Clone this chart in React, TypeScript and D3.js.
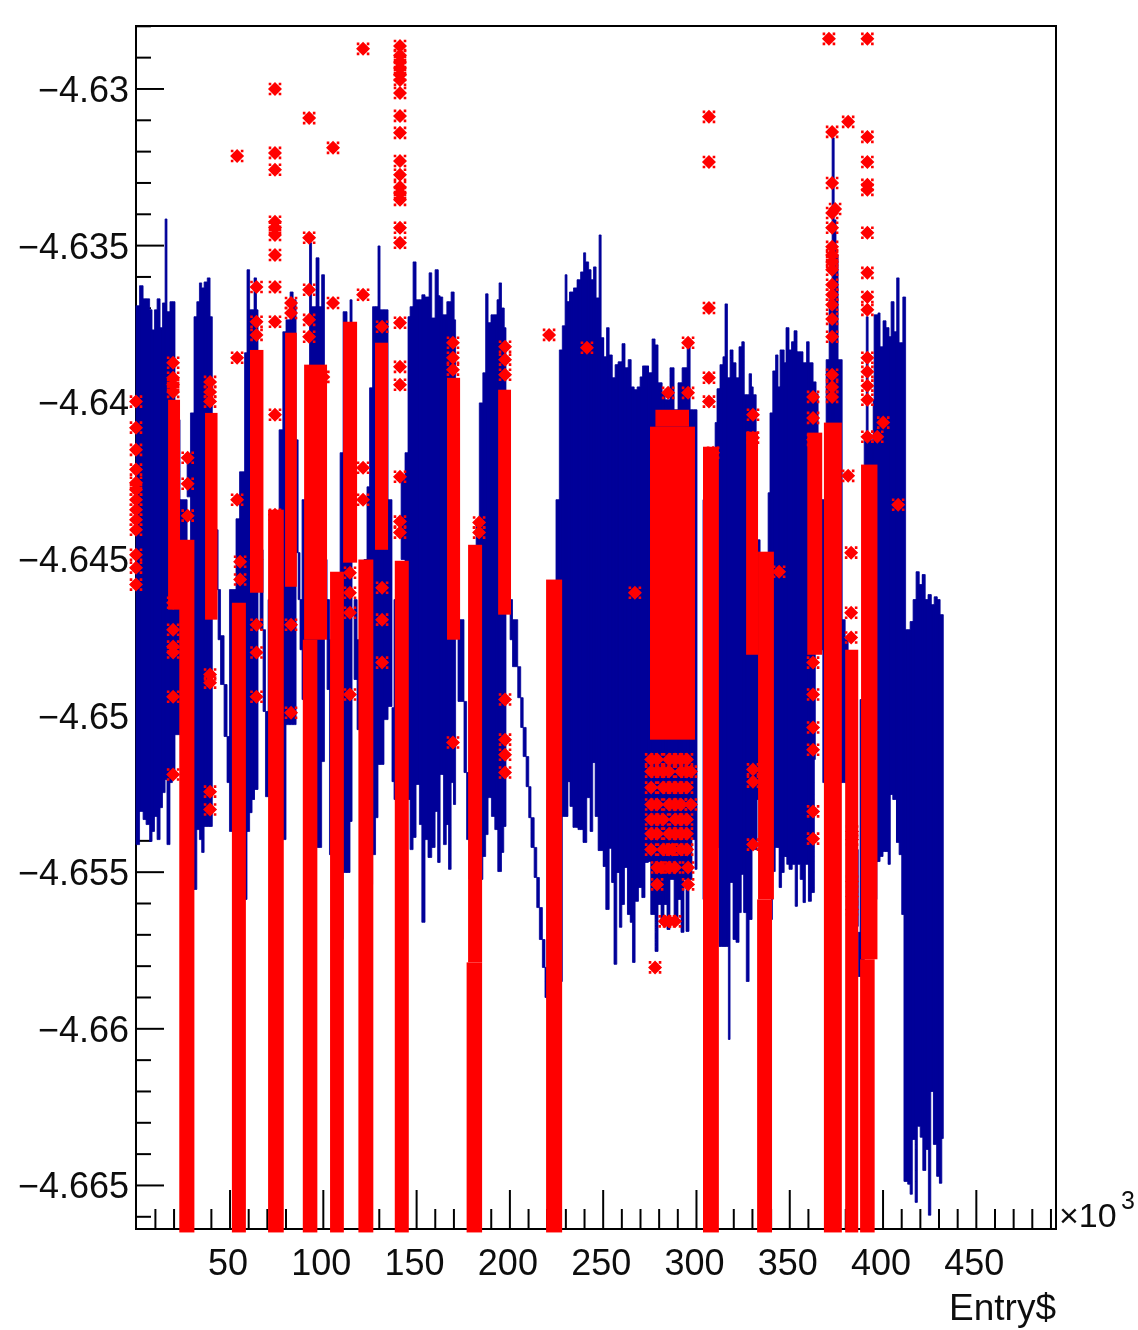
import React from "react";
import * as d3 from "d3";

const WIDTH = 1138;
const HEIGHT = 1330;

const blueTopEntry = [-0.4,1.5,3.4,5.0,6.9,8.2,9.5,10.9,12.5,13.8,15.2,16.2,17.8,20.5,23.2,27.0,28.8,30.7,32.2,33.6,34.8,36.1,37.8,39.3,40.5,43.6,44.9,46.8,48.4,49.7,53.2,55.1,57.8,59.1,60.5,62.9,64.2,65.0,66.1,67.7,69.0,70.4,73.6,76.3,78.3,80.0,82.2,83.8,85.4,86.5,87.5,88.6,91.3,92.6,93.7,96.1,97.7,99.1,100.6,102.0,103.3,106.3,109.0,110.6,112.7,114.3,115.4,116.5,118.1,121.8,123.4,124.8,126.4,129.3,130.4,134.7,136.8,137.9,141.7,143.8,145.4,146.5,148.1,149.7,152.8,154.5,156.7,158.1,159.9,161.5,162.6,164.0,166.2,168.5,170.1,170.9,172.2,175.4,176.8,178.1,181.9,183.6,185.5,187.0,188.3,189.9,193.1,194.2,195.5,196.9,197.9,200.1,201.4,204.2,205.8,207.1,208.7,210.1,211.3,213.0,214.4,215.8,217.4,218.8,219.9,224.7,226.5,228.1,229.6,230.6,232.0,234.1,236.0,237.9,239.5,240.6,242.2,243.5,244.8,246.2,247.8,248.9,250.3,251.8,253.2,254.8,256.4,258.0,260.1,261.7,263.4,265.0,266.6,268.2,269.8,271.1,274.3,276.2,277.8,279.4,281.6,283.2,285.8,288.0,290.1,292.3,295.0,296.6,300.3,303.5,310.0,311.0,312.6,314.2,315.3,316.6,318.0,319.6,321.2,322.8,324.3,325.5,328.2,329.5,330.4,332.0,334.1,338.4,339.4,340.9,342.4,343.7,344.8,347.0,348.0,349.6,351.0,352.3,353.9,357.1,359.0,360.4,362.5,364.1,365.2,367.3,369.5,371.1,372.7,373.8,374.8,375.9,378.1,379.7,381.3,383.4,385.0,386.7,387.7,389.9,391.0,392.0,394.7,395.2,397.3,398.4,400.0,401.6,403.2,404.3,405.9,407.3,408.6,410.6,412.1,414.5,416.1,417.7,419.4,421.0,422.6,424.2,425.8,427.4,429.0,430.6,432.3];
const blueTopValue = [-4.63692,-4.63628,-4.6367,-4.6367,-4.63705,-4.63769,-4.63705,-4.6367,-4.63762,-4.63683,-4.63415,-4.63711,-4.63679,-4.64056,-4.64311,-4.64193,-4.64034,-4.63727,-4.63679,-4.63619,-4.63635,-4.63616,-4.63603,-4.63727,-4.64407,-4.64598,-4.64745,-4.64901,-4.65067,-4.64598,-4.64372,-4.64222,-4.63842,-4.63577,-4.63705,-4.63603,-4.63705,-4.64311,-4.64471,-4.64726,-4.64987,-4.6463,-4.64375,-4.64088,-4.63775,-4.63737,-4.63648,-4.63673,-4.6412,-4.6448,-4.6463,-4.64311,-4.63992,-4.63491,-4.63695,-4.63539,-4.63695,-4.63593,-4.64502,-4.6463,-4.64758,-4.6463,-4.64161,-4.63711,-4.63785,-4.63673,-4.64215,-4.6463,-4.64758,-4.64502,-4.6427,-4.63954,-4.63695,-4.63501,-4.63705,-4.64311,-4.64975,-4.6463,-4.64247,-4.64161,-4.63727,-4.63695,-4.63552,-4.63673,-4.63657,-4.63664,-4.63587,-4.63731,-4.63577,-4.6366,-4.63664,-4.63721,-4.63679,-4.63648,-4.63737,-4.64566,-4.64694,-4.64955,-4.65182,-4.64694,-4.64375,-4.64002,-4.63906,-4.63654,-4.63746,-4.63721,-4.63673,-4.63619,-4.63699,-4.63762,-4.64502,-4.6463,-4.64694,-4.64844,-4.64943,-4.65038,-4.65131,-4.65227,-4.65326,-4.65421,-4.65517,-4.65613,-4.65715,-4.65804,-4.65268,-4.64311,-4.63833,-4.63756,-4.63593,-4.63679,-4.63648,-4.63635,-4.63609,-4.63584,-4.63523,-4.63552,-4.63577,-4.63609,-4.63568,-4.63667,-4.63466,-4.63794,-4.63855,-4.63762,-4.63849,-4.63922,-4.6388,-4.63871,-4.63813,-4.6389,-4.63864,-4.63951,-4.6396,-4.63951,-4.63919,-4.63884,-4.63906,-4.63798,-4.63817,-4.63938,-4.6397,-4.63992,-4.6389,-4.64024,-4.63938,-4.6389,-4.6381,-4.64024,-4.65491,-4.64311,-4.64065,-4.63957,-4.6388,-4.63855,-4.63686,-4.63922,-4.63833,-4.63874,-4.63922,-4.63823,-4.63807,-4.63976,-4.63909,-4.63951,-4.63976,-4.64439,-4.64502,-4.64289,-4.64034,-4.639,-4.63849,-4.63951,-4.63833,-4.63874,-4.63762,-4.63833,-4.63807,-4.63772,-4.63839,-4.63874,-4.63807,-4.63874,-4.63935,-4.63973,-4.6463,-4.64311,-4.63864,-4.63673,-4.63156,-4.63418,-4.6353,-4.63864,-4.64694,-4.64758,-4.64949,-4.65013,-4.65428,-4.65692,-4.64949,-4.6412,-4.63727,-4.6412,-4.63992,-4.63721,-4.63715,-4.63823,-4.6374,-4.63762,-4.63791,-4.63679,-4.63775,-4.63603,-4.6381,-4.63664,-4.64726,-4.647,-4.6463,-4.64541,-4.64582,-4.6455,-4.6463,-4.64614,-4.64646,-4.64621,-4.6463,-4.64678,-4.66];

const blueBottomEntry = [-0.4,1.5,3.4,5.0,6.9,8.2,9.5,10.9,12.5,13.8,15.2,16.2,17.8,19.1,20.5,23.2,27.0,28.8,32.2,33.6,34.8,36.1,40.5,43.6,44.9,46.8,48.4,49.7,53.2,55.1,59.1,60.5,61.8,63.1,65.0,66.1,67.7,69.0,73.6,76.3,80.0,85.4,86.5,87.5,88.6,91.3,92.6,93.7,96.1,99.1,100.6,102.0,103.3,106.3,110.6,114.3,115.4,116.5,118.1,119.4,121.8,124.8,126.4,128.0,129.3,132.5,134.7,136.8,137.9,141.7,143.8,145.4,146.5,148.1,149.7,151.5,152.8,154.5,156.1,158.1,159.9,161.4,162.6,164.4,165.9,167.1,168.5,169.8,170.9,172.2,175.4,176.8,178.1,185.5,187.0,188.3,190.1,191.9,193.5,195.5,196.7,197.9,200.1,201.4,204.2,205.8,207.1,208.7,210.1,211.3,213.0,214.4,215.8,217.4,218.8,219.9,224.7,228.1,231.1,232.2,233.8,236.5,239.2,241.2,243.0,244.4,245.7,247.3,250.0,251.4,253.2,254.6,255.8,257.3,258.7,260.0,261.4,263.0,264.5,265.7,267.1,268.9,270.7,272.4,274.2,275.5,277.8,279.4,281.0,282.6,284.2,285.8,288.0,290.1,291.7,293.3,294.4,296.0,297.6,299.2,303.5,311.0,312.1,317.1,318.0,319.6,321.2,322.8,324.0,325.4,326.7,328.2,329.8,332.5,340.2,340.7,342.2,344.3,345.6,347.0,348.4,349.6,351.3,352.9,354.0,355.6,357.1,358.4,360.0,361.6,363.2,363.7,367.7,381.3,383.4,385.0,386.7,389.9,396.7,398.4,400.0,402.7,403.9,405.2,407.2,408.6,410.0,411.2,413.2,414.5,415.7,417.2,418.4,419.9,421.3,422.9,424.3,425.6,427.0,428.8,430.2,431.5,432.3];
const blueBottomValue = [-4.65412,-4.65306,-4.65332,-4.65348,-4.65402,-4.6537,-4.65322,-4.65396,-4.65294,-4.65246,-4.65204,-4.65412,-4.65214,-4.65195,-4.65061,-4.64502,-4.64302,-4.65555,-4.65364,-4.65396,-4.65437,-4.65354,-4.64598,-4.64758,-4.64901,-4.65067,-4.65214,-4.6537,-4.65491,-4.65587,-4.6537,-4.6531,-4.65268,-4.65236,-4.64566,-4.64726,-4.64987,-4.65259,-4.65364,-4.65396,-4.65029,-4.6448,-4.6463,-4.6479,-4.64949,-4.65268,-4.65364,-4.65396,-4.65421,-4.65147,-4.6463,-4.64917,-4.65444,-4.65715,-4.65501,-4.65338,-4.64471,-4.64885,-4.65045,-4.65555,-4.65523,-4.65539,-4.65444,-4.65326,-4.65156,-4.65013,-4.64971,-4.65211,-4.65268,-4.64502,-4.64694,-4.65268,-4.65428,-4.65389,-4.6522,-4.65348,-4.6566,-4.65396,-4.65453,-4.65421,-4.65306,-4.65469,-4.65188,-4.65412,-4.65348,-4.65491,-4.65214,-4.65284,-4.64726,-4.64955,-4.65182,-4.65396,-4.65523,-4.6545,-4.6538,-4.65262,-4.65322,-4.65364,-4.65498,-4.65437,-4.65354,-4.64662,-4.64758,-4.64844,-4.64943,-4.65038,-4.65131,-4.65227,-4.65326,-4.65421,-4.65517,-4.65613,-4.65715,-4.65804,-4.659,-4.65906,-4.65849,-4.65322,-4.65211,-4.6529,-4.65357,-4.65364,-4.65405,-4.65262,-4.6537,-4.6515,-4.65322,-4.65431,-4.65482,-4.65619,-4.65424,-4.65533,-4.65794,-4.65501,-4.65676,-4.65603,-4.65485,-4.65635,-4.6566,-4.65788,-4.65593,-4.65549,-4.65581,-4.65469,-4.65466,-4.65635,-4.65753,-4.65603,-4.65667,-4.65603,-4.65683,-4.65523,-4.65667,-4.65587,-4.65692,-4.65523,-4.65689,-4.65523,-4.65396,-4.65491,-4.65587,-4.65421,-4.65737,-4.66034,-4.65533,-4.65715,-4.65724,-4.65629,-4.65507,-4.65629,-4.65849,-4.65651,-4.65428,-4.65268,-4.65651,-4.65498,-4.65421,-4.65549,-4.65501,-4.6545,-4.65475,-4.65491,-4.65475,-4.65609,-4.65475,-4.65523,-4.65597,-4.65475,-4.65593,-4.65565,-4.6514,-4.6479,-4.65214,-4.65268,-4.65428,-4.65673,-4.65833,-4.65587,-4.65466,-4.6545,-4.65434,-4.65475,-4.65252,-4.65268,-4.65405,-4.65444,-4.65635,-4.66487,-4.66496,-4.66528,-4.66353,-4.66554,-4.66311,-4.66346,-4.66452,-4.66385,-4.66595,-4.662,-4.66369,-4.66471,-4.66493,-4.6635,-4.66];

const bandStart = [16.8,22.8,36.6,51,60.7,70.4,79.5,89.7,89,110.6,103.6,118.8,127.7,138.3,166.3,177.6,176.8,193.7,219.4,275.1,278,303.5,326.6,333,332.5,359.4,368.3,379.7,388.2,387.7];
const bandEnd = [23.2,30.9,43.3,58.5,67.9,78.8,85.8,102,96.8,118.1,111,126.8,134.7,145.8,173.3,185.1,185.1,200.6,228,299.2,296,312,333,341.5,340.5,367.4,377.9,386.7,397,395.5];
const bandHigh = [-4.63992,-4.64439,-4.64034,-4.6464,-4.63833,-4.64343,-4.63778,-4.6388,-4.64758,-4.63743,-4.64541,-4.64502,-4.6381,-4.64506,-4.63922,-4.64455,-4.65788,-4.6396,-4.64566,-4.64078,-4.64024,-4.64142,-4.64094,-4.64477,-4.65587,-4.64097,-4.64065,-4.6479,-4.64199,-4.65778];
const bandLow = [-4.64662,-4.6665,-4.64694,-4.6665,-4.64608,-4.6665,-4.64589,-4.64758,-4.6665,-4.64512,-4.6665,-4.6665,-4.64471,-4.6665,-4.64758,-4.65788,-4.6665,-4.64678,-4.6665,-4.65077,-4.64078,-4.6665,-4.64806,-4.65587,-4.6665,-4.64806,-4.6665,-4.6665,-4.65778,-4.6665];

const starEntries = [-0.4,19.5,27.3,39.3,53.8,55.4,64.2,74.1,82.7,92.4,100,105.2,114.3,121.3,131.5,141.1,169.5,183.5,197.4,221,241.3,267,284.8,295.5,306.7,308.9,330.3,344.3,362.5,371,372.7,374.3,381.3,382.9,383.4,391.6,396.9,400.1,408.1];
const starValues = [
  [-4.63998,-4.64081,-4.64152,-4.64215,-4.64257,-4.64279,-4.64311,-4.64343,-4.64375,-4.64407,-4.64487,-4.64528,-4.64582],
  [-4.63874,-4.63922,-4.63944,-4.63967,-4.6464,-4.64726,-4.6478,-4.64799,-4.6494,-4.65188],
  [-4.64177,-4.6426,-4.64362],
  [-4.63935,-4.63967,-4.63998,-4.64869,-4.64895,-4.65243,-4.653],
  [-4.63214,-4.63858,-4.64311],
  [-4.64509,-4.64566],
  [-4.63632,-4.63743,-4.63785,-4.64502,-4.6471,-4.64799,-4.6494],
  [-4.63,-4.63204,-4.63258,-4.63424,-4.63443,-4.63466,-4.6353,-4.63632,-4.63743,-4.6404,-4.64359],
  [-4.63683,-4.63715,-4.6471,-4.64991],
  [-4.63093,-4.63475,-4.63641,-4.63737,-4.63791],
  [-4.63919],
  [-4.63188,-4.63683],
  [-4.64544,-4.64608,-4.64672,-4.64933],
  [-4.62872,-4.63657,-4.64209,-4.64311],
  [-4.63759,-4.64592,-4.64694,-4.64831],
  [-4.62863,-4.62892,-4.62914,-4.62933,-4.62955,-4.62971,-4.63013,-4.63086,-4.6314,-4.6323,-4.63274,-4.63313,-4.63332,-4.63354,-4.63443,-4.63491,-4.63746,-4.63887,-4.63944,-4.64238,-4.64381,-4.64416],
  [-4.6381,-4.63858,-4.63896,-4.65086],
  [-4.64384,-4.64416],
  [-4.63823,-4.63864,-4.63912,-4.64949,-4.65077,-4.65125,-4.65182],
  [-4.63785],
  [-4.63826],
  [-4.64608],
  [-4.6397],
  [-4.6381,-4.6397],
  [-4.63089,-4.63233,-4.63699,-4.63922,-4.63998],
  [-4.64161],
  [-4.6404,-4.64113,-4.65172,-4.65211,-4.65412],
  [-4.64541],
  [-4.63983,-4.6405,-4.6412,-4.64831,-4.64933,-4.65038,-4.65109,-4.65306,-4.65393],
  [-4.6284],
  [-4.63137,-4.633,-4.63396,-4.63443,-4.63504,-4.6353,-4.63552,-4.63577,-4.63625,-4.63657,-4.63689,-4.63734,-4.63791,-4.63912,-4.63951,-4.63983],
  [-4.63383],
  [-4.63105,-4.64235],
  [-4.6448,-4.64672,-4.64751],
  [-4.6537,-4.65396,-4.6553,-4.65578,-4.65619],
  [-4.6284,-4.63153,-4.63233,-4.63306,-4.63322,-4.63459,-4.63587,-4.63664,-4.63705,-4.63858,-4.63903,-4.63947,-4.63992,-4.6411],
  [-4.6411],
  [-4.64065],
  [-4.64327],
];

const speckleValues = [-4.6514,-4.65179,-4.6523,-4.65284,-4.65332,-4.65377,-4.65428,-4.65485,-4.65539,-4.65657,-4.65804];
const speckleEntries = [
  [275.7,278.9,285.3,288.5,291.7,294.9],
  [275.7,278.9,282.1,285.3,291.7,294.9,297],
  [275.7,282.1,285.3,288.5,291.7,294.9],
  [275.7,278.9,285.3,288.5,291.7,297],
  [275.7,278.9,282.1,288.5,291.7,294.9],
  [275.7,278.9,285.3,288.5,291.7,294.9],
  [275.7,282.1,285.3,287,291.7,295],
  [278.9,281,285.3,288.5,295.5],
  [278.9,295.5],
  [283,285.3,288.5],
  [277.8],
];

const xMajorTicks = [50,100,150,200,250,300,350,400,450];
const xMinorTicks = [10,20,30,40,60,70,80,90,110,120,130,140,160,170,180,190,210,220,230,240,260,270,280,290,310,320,330,340,360,370,380,390,410,420,430,440,460,470,480,490];
const yMajorTicks = [-4.63,-4.635,-4.64,-4.645,-4.65,-4.655,-4.66,-4.665];
const yMinorTicks = [-4.628,-4.629,-4.631,-4.632,-4.633,-4.634,-4.636,-4.637,-4.638,-4.639,-4.641,-4.642,-4.643,-4.644,-4.646,-4.647,-4.648,-4.649,-4.651,-4.652,-4.653,-4.654,-4.656,-4.657,-4.658,-4.659,-4.661,-4.662,-4.663,-4.664,-4.666];

const LEFT = 136, RIGHT = 1056, TOP = 26, BOTTOM = 1229;
const BLUE = "#000099";
const RED = "#ff0000";
const FONT = "'Liberation Sans', Arial, sans-serif";

const x = d3.scaleLinear().domain([-0.4, 492.7]).range([LEFT, RIGHT]);
const y = d3.scaleLinear().domain([-4.62799, -4.66639]).range([TOP, BOTTOM]);

const rootStar = {
  draw(ctx: any) {
    const r = 7;
    ctx.moveTo(-r, 0);
    ctx.lineTo(0, -r);
    ctx.lineTo(r, 0);
    ctx.lineTo(0, r);
    ctx.closePath();
    for (const [sx, sy] of [[-1,-1],[1,-1],[1,1],[-1,1]]) {
      const cx = sx * 5, cy = sy * 5;
      ctx.moveTo(cx - 1.3, cy - 1.3);
      ctx.lineTo(cx + 1.3, cy - 1.3);
      ctx.lineTo(cx + 1.3, cy + 1.3);
      ctx.lineTo(cx - 1.3, cy + 1.3);
      ctx.closePath();
    }
  },
};
const starPath = d3.symbol().type(rootStar as any)() as string;

const stepValue = (xs: number[], vs: number[], at: number) =>
  vs[Math.max(0, d3.bisectRight(xs, at) - 1)];

const breaks = Array.from(new Set([...blueTopEntry, ...blueBottomEntry])).sort((a, b) => a - b);
const bluePath = d3.path();
breaks.slice(0, -1).forEach((b0, i) => {
  const hi = stepValue(blueTopEntry, blueTopValue, b0);
  const lo = stepValue(blueBottomEntry, blueBottomValue, b0);
  if (lo < hi) bluePath.rect(x(b0), y(hi), x(breaks[i + 1]) - x(b0), y(lo) - y(hi));
});

const stars: [number, number][] = [];
starEntries.forEach((e, i) => starValues[i].forEach((v) => stars.push([e, v])));
speckleValues.forEach((v, i) => speckleEntries[i].forEach((e) => stars.push([e, v])));

const fmtY = (v: number) => "\u2212" + String(Math.abs(v));

export default function App() {
  return (
    <svg width={WIDTH} height={HEIGHT} style={{ position: "absolute", left: 0, top: 0, background: "#fff" }}>
      <defs>
        <filter id="soft" x="0" y="0" width="100%" height="100%" filterUnits="userSpaceOnUse">
          <feGaussianBlur stdDeviation={0.6} />
        </filter>
      </defs>
      <g filter="url(#soft)">
        <rect x={0} y={0} width={WIDTH} height={HEIGHT} fill="#fff" />
        <g stroke="#000" strokeWidth={2} fill="none">
          <rect x={LEFT} y={TOP} width={RIGHT - LEFT} height={BOTTOM - TOP} />
          {xMajorTicks.map((t) => <line key={t} x1={x(t)} x2={x(t)} y1={BOTTOM} y2={BOTTOM - 39} />)}
          {xMinorTicks.map((t) => <line key={t} x1={x(t)} x2={x(t)} y1={BOTTOM} y2={BOTTOM - 20} />)}
          {yMajorTicks.map((t) => <line key={t} x1={LEFT} x2={LEFT + 28} y1={y(t)} y2={y(t)} />)}
          {yMinorTicks.map((t) => <line key={t} x1={LEFT} x2={LEFT + 15} y1={y(t)} y2={y(t)} />)}
        </g>
        <path d={bluePath.toString()} fill={BLUE} stroke={BLUE} strokeWidth={0.8} />
        <g fill={RED}>
          {bandStart.map((s, i) => (
            <rect key={i} x={x(s)} width={x(bandEnd[i]) - x(s)} y={y(bandHigh[i])} height={y(bandLow[i]) - y(bandHigh[i])} />
          ))}
          {stars.map(([e, v], i) => (
            <path key={i} d={starPath} transform={`translate(${x(e)},${y(v)})`} />
          ))}
        </g>
        <g fontFamily={FONT} fontSize={36} fill="#111">
          {yMajorTicks.map((t) => (
            <text key={t} x={129} y={y(t) + 13} textAnchor="end">{fmtY(t)}</text>
          ))}
          {xMajorTicks.map((t) => (
            <text key={t} x={x(t) - 2} y={1275} textAnchor="middle">{t}</text>
          ))}
          <text x={1056} y={1320} textAnchor="end" fontSize={37}>Entry$</text>
          <text x={1059} y={1227} fontSize={34}>×10</text>
          <text x={1121} y={1209} fontSize={25}>3</text>
        </g>
      </g>
    </svg>
  );
}
